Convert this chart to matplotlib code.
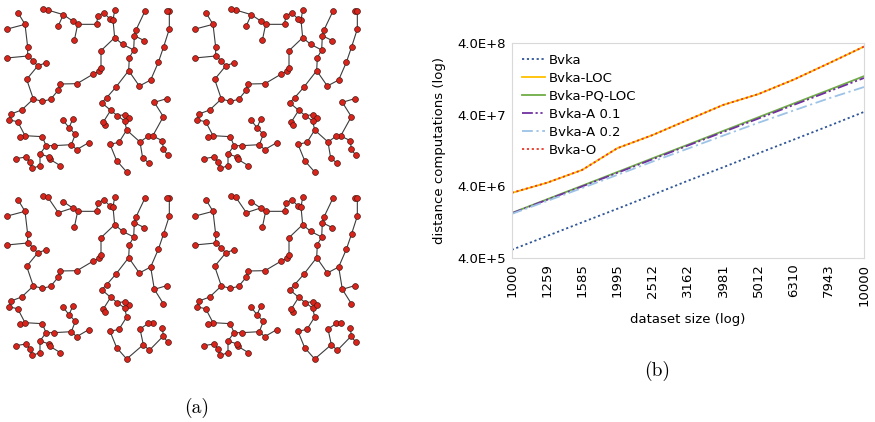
import numpy as np
import matplotlib
matplotlib.use("Agg")
from matplotlib import pyplot as plt
from matplotlib.collections import LineCollection

# ---- panel (a): the tree drawing, node coordinates in 1/3 px of a 180px tile
paths_top = [
    [(55, 40), (75, 73), (83, 141), (83, 168), (100, 182), (113, 198), (80, 238), (100, 297),
     (127, 304), (152, 298), (175, 270), (180, 252), (231, 251), (280, 222), (296, 214),
     (303, 203), (303, 152), (344, 113), (339, 60), (331, 58), (311, 38), (293, 48), (290, 73),
     (233, 73), (218, 63), (190, 44), (143, 30), (130, 26)],
    [(22, 87), (75, 73)],
    [(20, 174), (83, 168)],
    [(113, 198), (138, 188)],
    [(344, 31), (339, 60)],
    [(190, 44), (175, 77)],
    [(233, 73), (223, 121)],
    [(344, 113), (368, 133), (401, 150), (403, 107), (408, 90), (435, 33)],
    [(403, 107), (433, 122)],
    [(401, 150), (388, 173), (386, 212), (418, 258), (452, 240), (475, 187), (491, 140),
     (508, 87), (508, 33), (500, 33)],
    [(386, 212), (348, 261), (320, 293), (305, 308), (332, 331), (352, 347), (375, 344), (387, 355)],
    [(332, 331), (310, 366), (315, 376)],
    [(352, 347), (374, 363), (380, 390)],
    [(380, 390), (357, 427), (330, 433), (350, 482), (380, 516)],
    [(380, 390), (420, 426), (428, 474), (448, 490)],
    [(420, 426), (445, 408), (458, 408), (490, 350), (463, 307), (500, 296)],
    [(458, 408), (487, 422), (490, 447), (503, 466)],
    [(100, 297), (65, 330), (33, 342), (28, 360), (53, 365), (75, 407), (127, 410), (138, 437),
     (162, 437), (214, 434), (230, 449), (266, 428)],
    [(60, 412), (75, 407)],
    [(214, 434), (226, 403), (207, 383), (188, 359)],
    [(207, 383), (219, 356)],
    [(138, 437), (120, 462), (120, 497), (97, 505), (89, 485), (78, 471), (47, 476)],
    [(120, 462), (148, 471), (150, 478), (181, 497)],
]

paths_bottom = [
    [(55, 40), (75, 73), (83, 141), (83, 168), (100, 182), (113, 198), (80, 238), (100, 297),
     (127, 304), (152, 298), (175, 270), (180, 252), (231, 251), (280, 222), (296, 214),
     (303, 203), (303, 152), (344, 113), (339, 60), (331, 58), (311, 38), (293, 48), (290, 73),
     (233, 73), (218, 63), (175, 77), (143, 30), (130, 26)],
    [(22, 87), (75, 73)],
    [(20, 174), (83, 168)],
    [(113, 198), (138, 188)],
    [(344, 31), (339, 60)],
    [(218, 63), (190, 44)],
    [(233, 73), (223, 121)],
    [(344, 113), (368, 133), (401, 150), (403, 107), (408, 90), (435, 33)],
    [(403, 107), (433, 122)],
    [(401, 150), (388, 173), (386, 212), (418, 258), (452, 240), (475, 187), (491, 140),
     (508, 87), (508, 33), (500, 33)],
    [(386, 212), (348, 261), (320, 293), (305, 308), (332, 331), (352, 347), (375, 344), (387, 355)],
    [(332, 331), (310, 366), (315, 376)],
    [(352, 347), (374, 363), (380, 390)],
    [(380, 390), (357, 427), (330, 433), (350, 482), (380, 516), (430, 473), (420, 426),
     (445, 409), (458, 409)],
    [(430, 473), (448, 490), (490, 447), (487, 422)],
    [(490, 447), (503, 466)],
    [(452, 240), (463, 307), (500, 296)],
    [(463, 307), (490, 350)],
    [(100, 297), (65, 330), (33, 342), (28, 360), (53, 365), (75, 407), (127, 410), (138, 437),
     (162, 437), (214, 434), (230, 449), (266, 428)],
    [(60, 412), (75, 407)],
    [(214, 434), (226, 403), (207, 383), (188, 359)],
    [(207, 383), (219, 356)],
    [(138, 437), (120, 462), (120, 497), (97, 505), (89, 485), (78, 471), (47, 476)],
    [(120, 462), (148, 471), (150, 478), (181, 497)],
]

# ---- panel (b): distance computations
sizes = [1000, 1259, 1585, 1995, 2512, 3162, 3981, 5012, 6310, 7943, 10000]
bvka = [5.2e5, 8.1e5, 1.26e6, 1.95e6, 3.05e6, 4.8e6, 7.4e6, 1.16e7, 1.8e7, 2.8e7, 4.4e7]
bvka_loc = [3.24e6, 4.5e6, 6.8e6, 1.37e7, 2.09e7, 3.4e7, 5.5e7, 7.8e7, 1.24e8, 2.1e8, 3.6e8]
bvka_pq_loc = [1.70e6, 2.64e6, 4.09e6, 6.36e6, 9.9e6, 1.53e7, 2.38e7, 3.7e7, 5.75e7, 8.9e7, 1.39e8]
bvka_a01 = [1.68e6, 2.6e6, 4.0e6, 6.2e6, 9.6e6, 1.49e7, 2.3e7, 3.55e7, 5.5e7, 8.5e7, 1.31e8]
bvka_a02 = [1.65e6, 2.5e6, 3.8e6, 5.8e6, 8.9e6, 1.35e7, 2.05e7, 3.1e7, 4.6e7, 6.8e7, 9.8e7]
bvka_o = [3.26e6, 4.5e6, 6.8e6, 1.37e7, 2.09e7, 3.4e7, 5.5e7, 7.8e7, 1.24e8, 2.1e8, 3.6e8]

fig = plt.figure(figsize=(8.75, 4.22), dpi=100)

ax0 = fig.add_axes([0, 0, 1, 1])
ax0.set_xlim(0, 875)
ax0.set_ylim(422, 0)
ax0.axis("off")

tiles = [(0, 0, paths_top), (188, 0, paths_top), (0, 187, paths_bottom), (188, 187, paths_bottom)]
for dx, dy, paths in tiles:
    segs = []
    nodes = set()
    for p in paths:
        pts = [(dx + x / 3, dy + y / 3) for x, y in p]
        segs.append(pts)
        nodes.update(pts)
    ax0.add_collection(LineCollection(segs, colors="#3c3c3c", linewidths=0.8, zorder=1))
    nx, ny = zip(*nodes)
    ax0.plot(nx, ny, "o", ms=4.2, mfc="#d9241c", mec="#4a1a14", mew=0.5, ls="none", zorder=2)

ax0.text(197, 408, "(a)", family="cmr10", fontsize=14, ha="center", va="center")
ax0.text(657, 371, "(b)", family="cmr10", fontsize=14, ha="center", va="center")

ax = fig.add_axes([511.7 / 875, (422 - 258) / 422, 352.3 / 875, 214.7 / 422])
ax.plot(sizes, bvka, color="#2f5597", lw=1.3, ls=(0, (1.2, 1.5)), label="Bvka")
ax.plot(sizes, bvka_loc, color="#ffc000", lw=1.3, label="Bvka-LOC")
ax.plot(sizes, bvka_pq_loc, color="#70ad47", lw=1.3, label="Bvka-PQ-LOC")
ax.plot(sizes, bvka_a01, color="#7030a0", lw=1.3, ls=(0, (6, 1.5, 1.2, 1.5, 1.2, 1.5)), label="Bvka-A 0.1")
ax.plot(sizes, bvka_a02, color="#9dc3e6", lw=1.3, ls=(0, (6, 2, 1.2, 2)), label="Bvka-A 0.2")
ax.plot(sizes, bvka_o, color="#e8382a", lw=1.3, ls=(0, (1.2, 1.5)), label="Bvka-O")

ax.set_xscale("log")
ax.set_yscale("log")
ax.set_xlim(1000, 10000)
ax.set_ylim(4e5, 4e8)
ax.set_xticks(sizes)
ax.set_xticklabels([str(s) for s in sizes], rotation=90)
ax.xaxis.set_minor_locator(matplotlib.ticker.NullLocator())
ax.yaxis.set_minor_locator(matplotlib.ticker.NullLocator())
ax.set_yticks([4e5, 4e6, 4e7, 4e8])
ax.set_yticklabels(["4.0E+5", "4.0E+6", "4.0E+7", "4.0E+8"])
ax.tick_params(length=0, labelsize=9.5, pad=4)
for s in ax.spines.values():
    s.set_color("#d9d9d9")
    s.set_linewidth(0.8)
ax.set_xlabel("dataset size (log)", fontsize=9.5, labelpad=5)
ax.set_ylabel("distance computations (log)", fontsize=9.5, labelpad=8)
ax.legend(loc="upper left", frameon=False, fontsize=9.5, handlelength=1.7,
          handletextpad=0.3, labelspacing=0.38, borderaxespad=0.4)

fig.savefig("out.png", dpi=100)
